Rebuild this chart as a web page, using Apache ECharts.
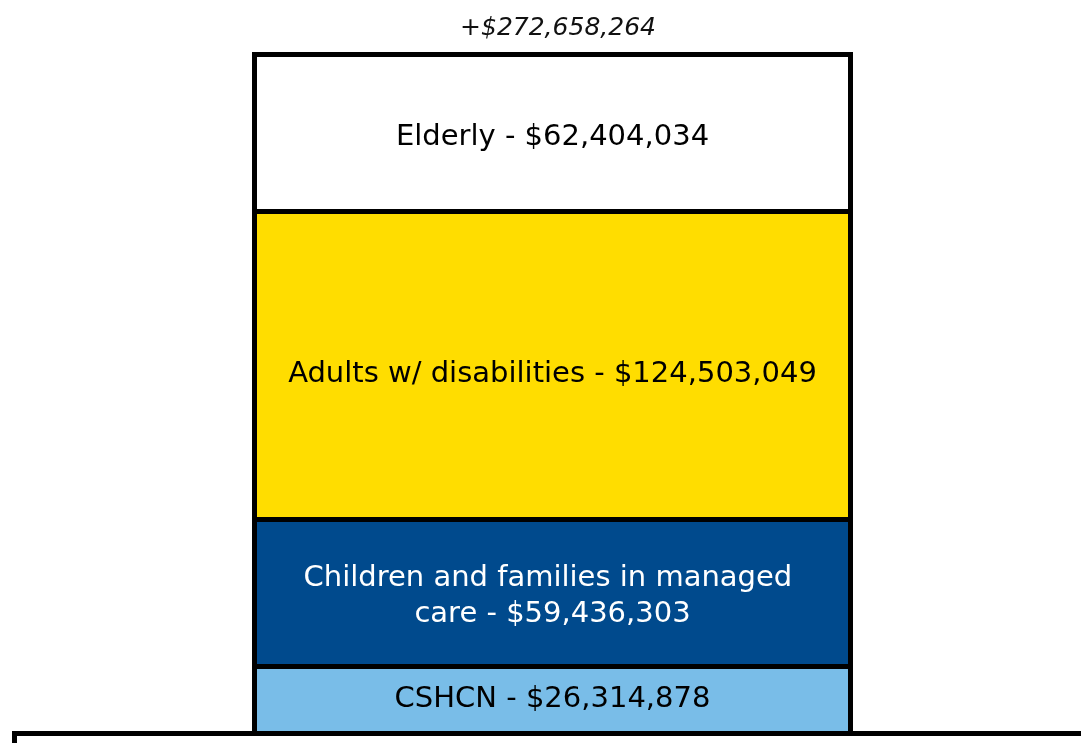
<!DOCTYPE html>
<html>
<head>
<meta charset="utf-8">
<script src="https://cdn.jsdelivr.net/npm/echarts@6/dist/echarts.min.js"></script>
<style>
  html, body { margin: 0; padding: 0; background: #fff; }
  #chart { width: 1081px; height: 743px; }
</style>
</head>
<body>
<div id="chart"></div>
<script>
// segments, bottom to top
const groups = ['CSHCN', 'Children and families in managed care', 'Adults w/ disabilities', 'Elderly']
const amounts = [26314878, 59436303, 124503049, 62404034]
const fills = ['#79bde8', '#004a8d', '#ffdd00', '#ffffff']
const textColors = ['#000', '#fff', '#000', '#000']
const labelDrop = [1, 4, 9, 3] // labels sit a little below the middle

const total = amounts.reduce((a, b) => a + b, 0)
const money = v => '$' + v.toLocaleString('en-US')
const font = '"DejaVu Sans", sans-serif'

// running totals where one segment meets the next
const joins = []
amounts.slice(0, -1).reduce((sum, v) => { joins.push(sum + v); return sum + v }, 0)

const chart = echarts.init(document.getElementById('chart'))

const segments = groups.map((g, i) => ({
  name: g,
  type: 'bar',
  stack: 'all',
  barWidth: '100%',
  data: [amounts[i]],
  itemStyle: { color: fills[i] },
  label: {
    show: true,
    position: 'inside',
    offset: [0, labelDrop[i]],
    formatter: g + ' - ' + money(amounts[i]),
    width: 540,
    overflow: 'break',
    align: 'center',
    fontFamily: font,
    fontSize: 29,
    lineHeight: 36,
    color: textColors[i]
  }
}))

// black rules between the segments
segments[segments.length - 1].markLine = {
  silent: true,
  symbol: ['none', 'none'],
  label: { show: false },
  lineStyle: { color: '#000', width: 5, type: 'solid' },
  data: joins.map(v => ({ yAxis: v }))
}

// outline round the whole bar, on a grid one border wider
const outline = {
  name: 'outline',
  type: 'bar',
  xAxisIndex: 1,
  yAxisIndex: 1,
  barWidth: '100%',
  z: 3,
  silent: true,
  data: [total],
  itemStyle: {
    color: 'rgba(0,0,0,0)',
    borderColor: '#000',
    borderWidth: 5
  }
}

chart.setOption({
  animation: false,
  title: {
    text: '+' + money(total),
    left: 553,
    top: 11,
    textAlign: 'center',
    textStyle: {
      fontFamily: font,
      fontStyle: 'italic',
      fontWeight: 'normal',
      fontSize: 25,
      color: '#111'
    }
  },
  grid: [
    { left: 257, right: 233, top: 57, bottom: 12 },
    { left: 252, right: 228, top: 52, bottom: 7 }
  ],
  xAxis: [
    { type: 'category', data: ['total'], show: false, gridIndex: 0 },
    { type: 'category', data: ['total'], show: false, gridIndex: 1 }
  ],
  yAxis: [
    { type: 'value', min: 0, max: total, show: false, gridIndex: 0 },
    { type: 'value', min: 0, max: total, show: false, gridIndex: 1 }
  ],
  series: segments.concat([outline]),
  graphic: [{
    type: 'rect',
    z: 10,
    shape: { x: 14.5, y: 733.5, width: 1100, height: 60 },
    style: { fill: '#fff', stroke: '#000', lineWidth: 5 }
  }]
})
</script>
</body>
</html>
